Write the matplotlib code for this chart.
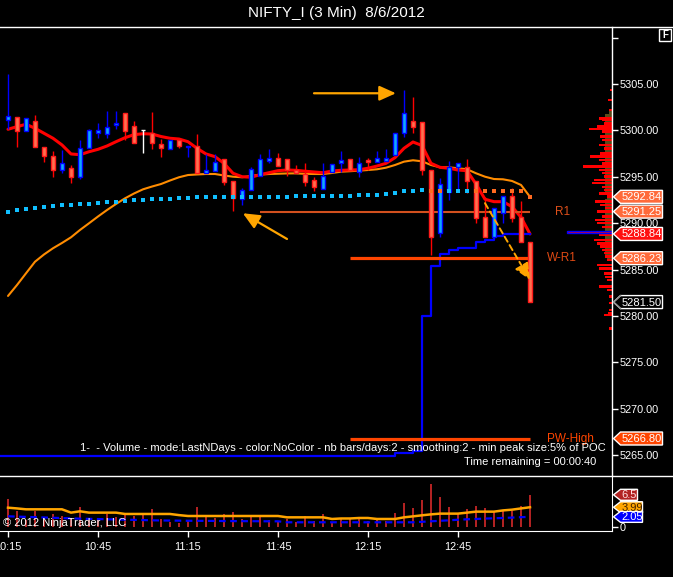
import numpy as np
import matplotlib
matplotlib.use("Agg")
import matplotlib.pyplot as plt
from matplotlib.patches import Polygon, Rectangle
from matplotlib.lines import Line2D
from matplotlib.transforms import IdentityTransform

plt.rcParams['font.family'] = ['Liberation Sans', 'DejaVu Sans']

# ---------------- data ----------------
title = "NIFTY_I (3 Min)  8/6/2012"
time_ticks = [0, 10, 20, 30, 40, 50]
time_labels = ['10:15', '10:45', '11:15', '11:45', '12:15', '12:45']
price_ticks = [5265, 5270, 5275, 5280, 5285, 5290, 5295, 5300, 5305, 5310]

opens = [5301.12, 5301.48, 5299.94, 5301.05, 5298.18, 5297.27, 5295.73, 5295.98, 5294.95, 5298.07,
         5299.69, 5299.58, 5300.55, 5301.84, 5300.44, 5300.01, 5299.69, 5298.50, 5298.03, 5299.00,
         5298.21, 5298.35, 5295.38, 5295.62, 5296.95, 5294.51, 5292.64, 5293.58, 5295.09, 5296.73,
         5296.99, 5296.89, 5295.76, 5295.27, 5294.66, 5293.69, 5295.48, 5296.45, 5296.89, 5295.55,
         5296.78, 5296.59, 5296.67, 5297.32, 5299.69, 5301.05, 5300.94, 5295.70, 5288.91, 5293.39,
         5296.09, 5296.09, 5294.51, 5290.67, 5288.55, 5291.07, 5292.90, 5290.67, 5288.01]
highs = [5306.08, 5301.48, 5301.37, 5301.66, 5298.18, 5297.78, 5297.89, 5296.27, 5298.97, 5300.12,
         5300.77, 5302.09, 5302.09, 5301.84, 5301.01, 5300.01, 5301.98, 5299.04, 5298.93, 5299.00,
         5298.35, 5299.61, 5297.46, 5297.42, 5296.95, 5294.51, 5293.76, 5296.09, 5297.46, 5297.96,
         5297.53, 5296.89, 5296.27, 5296.45, 5294.95, 5296.45, 5296.42, 5297.78, 5296.89, 5297.10,
         5297.03, 5297.78, 5297.96, 5299.69, 5304.35, 5303.63, 5300.94, 5295.70, 5294.84, 5296.70,
         5296.45, 5296.89, 5294.51, 5292.79, 5291.61, 5292.96, 5293.76, 5292.42, 5288.01]
lows = [5300.15, 5298.21, 5299.94, 5298.21, 5296.63, 5295.01, 5295.44, 5294.36, 5294.76, 5298.07,
        5299.21, 5299.21, 5300.12, 5298.97, 5298.61, 5297.60, 5298.00, 5297.08, 5298.03, 5298.07,
        5297.10, 5295.38, 5295.38, 5295.62, 5294.12, 5291.35, 5291.96, 5293.58, 5295.09, 5296.45,
        5296.13, 5295.12, 5295.38, 5294.04, 5293.47, 5293.69, 5295.48, 5295.48, 5295.70, 5294.98,
        5295.73, 5296.59, 5296.67, 5297.32, 5299.32, 5299.69, 5295.19, 5286.57, 5288.55, 5292.50,
        5293.39, 5293.22, 5289.99, 5288.55, 5288.55, 5289.99, 5290.16, 5287.94, 5281.50]
closes = [5301.58, 5299.94, 5301.37, 5298.24, 5297.24, 5295.73, 5296.52, 5295.01, 5298.07, 5300.01,
          5300.01, 5300.33, 5300.77, 5299.97, 5298.61, 5300.01, 5298.61, 5298.07, 5298.93, 5298.29,
          5298.35, 5295.38, 5295.70, 5296.59, 5294.41, 5292.68, 5293.55, 5295.81, 5296.95, 5296.99,
          5296.13, 5295.76, 5295.38, 5294.47, 5293.93, 5295.12, 5296.42, 5296.84, 5295.70, 5296.52,
          5296.56, 5297.03, 5297.06, 5299.69, 5301.84, 5300.33, 5295.70, 5288.48, 5294.26, 5296.09,
          5296.45, 5294.55, 5290.53, 5288.55, 5291.61, 5292.96, 5290.53, 5287.94, 5281.50]

fast_ma = [5300.12, 5300.40, 5300.66, 5300.23, 5299.69, 5299.15, 5298.43, 5297.46, 5297.38, 5297.70,
           5297.96, 5298.32, 5298.78, 5299.21, 5299.54, 5299.64, 5299.61, 5299.34, 5299.15, 5299.07,
           5298.78, 5298.07, 5297.46, 5297.17, 5296.45, 5295.38, 5295.01, 5294.95, 5295.23, 5295.44,
           5295.66, 5295.73, 5295.70, 5295.60, 5295.52, 5295.44, 5295.62, 5295.70, 5295.73, 5295.76,
           5295.92, 5296.16, 5296.45, 5297.06, 5298.07, 5298.75, 5298.37, 5296.45, 5296.02, 5295.92,
           5295.73, 5295.66, 5294.22, 5292.58, 5292.32, 5292.32, 5291.78, 5290.64, 5288.84]
slow_ma = [5282.16, 5283.34, 5284.60, 5285.85, 5286.63, 5287.30, 5287.87, 5288.48, 5289.27, 5289.99,
           5290.72, 5291.42, 5292.07, 5292.68, 5293.20, 5293.65, 5293.95, 5294.22, 5294.60, 5294.95,
           5295.19, 5295.25, 5295.30, 5295.30, 5295.14, 5295.01, 5294.95, 5295.09, 5295.23, 5295.30,
           5295.33, 5295.36, 5295.37, 5295.32, 5295.30, 5295.30, 5295.41, 5295.55, 5295.60, 5295.66,
           5295.73, 5295.81, 5295.98, 5296.27, 5296.63, 5296.78, 5296.67, 5296.27, 5296.02, 5296.02,
           5295.92, 5295.81, 5295.38, 5295.01, 5294.76, 5294.73, 5294.55, 5294.12, 5292.84]
vwap = [5291.24, 5291.40, 5291.56, 5291.67, 5291.78, 5291.87, 5291.96, 5292.01, 5292.07, 5292.10,
        5292.14, 5292.23, 5292.32, 5292.41, 5292.50, 5292.54, 5292.58, 5292.61, 5292.64, 5292.69,
        5292.75, 5292.80, 5292.80, 5292.80, 5292.86, 5292.86, 5292.86, 5292.86, 5292.86, 5292.86,
        5292.86, 5292.86, 5292.93, 5292.93, 5292.93, 5292.93, 5292.93, 5292.93, 5292.93, 5293.04,
        5293.04, 5293.04, 5293.15, 5293.29, 5293.47, 5293.50, 5293.58, 5293.47, 5293.47, 5293.50,
        5293.50, 5293.50, 5293.47, 5293.47, 5293.47, 5293.47, 5293.47, 5293.47, 5292.84]
vwap_below = [0] * 47 + [1, 1, 0, 0, 0, 1, 1, 1, 1, 1, 1, 1]
step_line = [5264.90] * 43 + [5265.25, 5265.25, 5265.40, 5280.03, 5285.42, 5286.68, 5287.08,
                              5287.33, 5287.33, 5288.01, 5288.19, 5288.62, 5288.84, 5288.84,
                              5288.84, 5288.84]

volume = [5.60, 3.17, 1.47, 3.23, 1.47, 2.63, 2.16, 1.82, 3.98, 1.82,
          1.35, 2.69, 2.08, 2.69, 2.16, 2.57, 3.58, 1.68, 1.01, 0.81,
          1.21, 3.98, 2.02, 1.82, 2.63, 2.97, 1.56, 2.36, 2.22, 1.35,
          1.21, 1.68, 1.01, 2.16, 1.15, 2.63, 1.01, 1.62, 1.68, 1.82,
          1.21, 1.47, 1.21, 2.83, 4.79, 3.78, 5.39, 8.63, 6.00, 3.98,
          2.83, 3.58, 4.18, 3.78, 3.03, 3.37, 3.23, 4.18, 6.50]
vol_avg_fast = [3.90, 3.75, 3.57, 3.57, 3.57, 3.57, 3.57, 2.90, 3.17, 2.90,
                2.90, 2.90, 2.90, 2.63, 2.63, 2.63, 2.63, 2.63, 2.63, 2.40,
                2.22, 2.22, 2.22, 2.22, 2.22, 2.22, 2.22, 2.22, 2.22, 2.22,
                2.22, 1.95, 1.95, 1.95, 1.95, 1.95, 1.62, 1.72, 1.72, 1.82,
                1.82, 1.62, 1.62, 1.62, 1.95, 2.15, 2.36, 2.55, 2.70, 2.70,
                2.70, 2.90, 3.10, 3.10, 3.10, 3.35, 3.50, 3.75, 3.99]
vol_avg_slow = [2.16, 2.10, 2.04, 1.98, 1.92, 1.86, 1.80, 1.74, 1.68, 1.64,
                1.60, 1.56, 1.52, 1.48, 1.44, 1.40, 1.35, 1.32, 1.30, 1.28,
                1.26, 1.25, 1.24, 1.22, 1.20, 1.19, 1.18, 1.17, 1.16, 1.15,
                1.15, 0.95, 0.95, 0.95, 0.95, 0.95, 0.95, 0.95, 0.95, 0.95,
                0.95, 0.95, 0.95, 0.95, 0.95, 0.95, 1.05, 1.15, 1.25, 1.35,
                1.47, 1.55, 1.62, 1.70, 1.76, 1.82, 1.90, 1.98, 2.05]

profile_prices = [5304.35, 5303.28, 5302.20, 5301.30, 5301.12, 5300.76, 5300.40, 5300.15, 5299.86, 5299.32,
                  5298.97, 5298.43, 5298.07, 5297.53, 5297.17, 5296.81, 5296.45, 5296.09, 5295.73, 5295.38,
                  5295.01, 5294.66, 5294.30, 5293.93, 5293.58, 5293.22, 5292.86, 5292.32, 5291.96, 5291.61,
                  5291.24, 5290.70, 5290.34, 5289.99, 5289.62, 5289.02, 5288.73, 5288.19, 5287.83, 5287.47,
                  5287.11, 5286.76, 5286.39, 5286.03, 5285.50, 5285.14, 5284.60, 5284.23, 5283.88, 5283.16,
                  5282.80, 5282.08, 5281.37, 5280.65, 5280.29, 5280.11, 5278.67]
profile_sizes = [2, 4, 3, 13, 10, 8, 15, 23, 10, 12,
                 10, 13, 8, 12, 22, 13, 10, 29, 13, 10,
                 8, 18, 20, 10, 8, 13, 5, 17, 12, 7,
                 15, 10, 17, 15, 10, 45, 13, 18, 15, 12,
                 10, 8, 7, 5, 15, 13, 8, 7, 5, 13,
                 5, 3, 3, 3, 4, 8, 3]
poc_price = 5289.02

level_names = ['R1', 'W-R1', 'PW-High']
level_values = [5291.25, 5286.23, 5266.80]
level_start = [28, 38, 38]
level_colors = ['#D2501E', '#FF4500', '#FF4500']
level_widths = [1.5, 2.3, 2.3]

# arrows (bar index, price)
arrow_tails = [(34.0, 5304.0), (31.0, 5288.30), (53.0, 5292.16)]
arrow_tips = [(43.1, 5304.0), (26.1, 5291.07), (58.0, 5283.88)]
arrow_dashed = [False, False, True]

# ---------------- figure ----------------
W, H, DPI = 673, 577, 100
fig = plt.figure(figsize=(W / DPI, H / DPI), dpi=DPI, facecolor='black')


def rect(x0, y0, x1, y1):
    return [x0 / W, 1 - y1 / H, (x1 - x0) / W, (y1 - y0) / H]


PANEL_R = 612
axp = fig.add_axes(rect(0, 27, PANEL_R, 476))
ax = fig.add_axes(rect(0, 27, PANEL_R, 476), sharey=axp)
axv = fig.add_axes(rect(0, 476, PANEL_R, 531))
for a in (axp, ax, axv):
    a.set_facecolor('none')
axp.set_zorder(1)
ax.set_zorder(2)

n = len(opens)
x = np.arange(n)
xlim = (-8 / 9, (PANEL_R - 8) / 9)
ax.set_xlim(*xlim)
axv.set_xlim(*xlim)
ax.set_ylim(5262.76, 5311.14)

# volume profile
axp.set_xlim(PANEL_R, 0)
pp = np.array(profile_prices)
ps = np.array(profile_sizes, dtype=float)
va = (pp > 5285.8) & (pp < 5302.5)
axp.fill_betweenx(pp[va], 0, np.minimum(ps[va], 7), color='#5C4A1A', lw=0, step='mid', zorder=1)
axp.barh(pp, ps, height=0.26, color='#FF0000', lw=0, zorder=2)
poc_i = int(np.argmin(np.abs(pp - poc_price)))
axp.barh([pp[poc_i]], [ps[poc_i]], height=0.22, color='#FF0000', edgecolor='#0000FF', lw=1.0, zorder=3)
axp.axis('off')

# moving averages
ax.plot(x, slow_ma, color='#FF8C00', lw=1.5, zorder=2, solid_capstyle='round')
ax.plot(x, fast_ma, color='#FF0000', lw=2.2, zorder=2, solid_capstyle='round')

# step line
sx = np.r_[xlim[0], x[1:]]
ax.plot(sx, step_line, drawstyle='steps-post', color='#0000FF', lw=1.6, zorder=2)

# levels
for name, val, st, c, lw in zip(level_names, level_values, level_start, level_colors, level_widths):
    ax.hlines(val, st, n - 1, color=c, lw=lw, zorder=2)

# candles
o = np.array(opens); c = np.array(closes); h = np.array(highs); l = np.array(lows)
up = c > o
doji = np.isclose(c, o)
wick_col = np.where(doji, '#FFFFFF', np.where(up, '#0000FF', '#FF0000'))
ax.vlines(x, l, h, colors=wick_col, lw=1.0, zorder=3)
body_h = np.maximum(np.abs(c - o), 0.04)
body_b = np.minimum(o, c)
fc = np.where(doji, '#FFFFFF', np.where(up, '#10A8FF', '#FF7050'))
ec = np.where(doji, '#FFFFFF', np.where(up, '#0000FF', '#FF1A1A'))
ax.bar(x, body_h, bottom=body_b, width=0.46, color=fc, edgecolor=ec, lw=1.0, zorder=3)

# vwap dots
vw = np.array(vwap)
vb = np.array(vwap_below, dtype=bool)
ax.scatter(x[~vb], vw[~vb], marker='s', s=9, color='#10BFFF', lw=0, zorder=4)
ax.scatter(x[vb], vw[vb], marker='s', s=9, color='#FF6A20', lw=0, zorder=4)

# arrows
for (tx, ty), (hx, hy), dashed in zip(arrow_tails, arrow_tips, arrow_dashed):
    props = dict(arrowstyle='-|>,head_length=1.0,head_width=0.45', color='#FFA500',
                 lw=1.6, shrinkA=0, shrinkB=0, mutation_scale=10)
    if dashed:
        props['linestyle'] = (0, (3, 2))
        props['lw'] = 1.4
    ax.annotate('', xy=(hx, hy), xytext=(tx, ty), arrowprops=props, zorder=6)

# level labels
ax.text(61.6, level_values[0], level_names[0], color='#E0501A', fontsize=8.5, ha='center', va='center', zorder=6)
ax.text(61.5, level_values[1], level_names[1], color='#E04A14', fontsize=8.5, ha='center', va='center', zorder=6)
ax.text(59.9, level_values[2], level_names[2], color='#FF4500', fontsize=8.5, ha='left', va='center', zorder=6)

# price axis
for sp in ('top', 'left', 'bottom'):
    ax.spines[sp].set_visible(False)
ax.spines['right'].set_color('white')
ax.spines['right'].set_linewidth(1.0)
ax.yaxis.tick_right()
ax.set_yticks(price_ticks)
ax.set_yticklabels([f'{t:.2f}' if t < 5310 else '' for t in price_ticks])
ax.tick_params(axis='y', colors='white', labelcolor='white', length=4, width=1, labelsize=7.8, pad=1.5)
ax.set_xticks([])

# volume panel
axv.bar(x, volume, width=0.33, color='#B22222', zorder=2)
axv.plot(x, vol_avg_fast, color='#FFA500', lw=1.8, zorder=3)
axv.plot(x, vol_avg_slow, color='#0000FF', lw=1.6, ls=(0, (3, 2)), zorder=3)
axv.set_ylim(-0.81, 10.3)
for sp in ('top', 'left'):
    axv.spines[sp].set_visible(False)
axv.spines['right'].set_color('white')
axv.spines['bottom'].set_color('white')
axv.yaxis.tick_right()
axv.set_yticks([0])
axv.set_yticklabels(['0'])
axv.tick_params(axis='y', colors='white', length=4, width=1, labelsize=7.8, pad=1.5)
axv.set_xticks(time_ticks)
axv.set_xticklabels(time_labels)
axv.tick_params(axis='x', colors='white', length=4, width=1, labelsize=7.8, pad=4)

# frame lines
fig.add_artist(Line2D([0, 1], [1 - 27 / H] * 2, transform=fig.transFigure, color='white', lw=1.0))
fig.add_artist(Line2D([0, 1], [1 - 476 / H] * 2, transform=fig.transFigure, color='white', lw=1.0))

# title and texts
fig.text(336 / W, 1 - 13 / H, title, color='white', fontsize=11, ha='center', va='center')
fig.text(606 / W, 1 - 448 / H,
         '1-  - Volume - mode:LastNDays - color:NoColor - nb bars/days:2 - smoothing:2 - min peak size:5% of POC',
         color='white', fontsize=8, ha='right', va='center')
fig.text(596 / W, 1 - 462 / H, 'Time remaining = 00:00:40', color='white', fontsize=8, ha='right', va='center')
fig.text(3 / W, 1 - 523 / H, '\u00a9 2012 NinjaTrader, LLC', color='white', fontsize=8, ha='left', va='center',
         zorder=10)

# F box
fig.add_artist(Rectangle((659 / W, 1 - 41 / H), 12 / W, 12 / H, transform=fig.transFigure,
                         fc='black', ec='white', lw=1.0))
fig.text(665 / W, 1 - 35 / H, 'F', color='white', fontsize=7, fontweight='bold', ha='center', va='center')


# value tags
def tag(axis, value, text, fc, tc='white', ec='white', w=49, h=13, tip_ec=None):
    y = axis.transData.transform((0, value))[1]
    x0 = axis.bbox.x1 + 1.5
    pts = [(x0, y), (x0 + 7, y + h / 2), (x0 + w, y + h / 2), (x0 + w, y - h / 2), (x0 + 7, y - h / 2)]
    fig.add_artist(Polygon(pts, closed=True, transform=IdentityTransform(), fc=fc, ec=ec, lw=1.0, zorder=20))
    if tip_ec is not None:
        fig.add_artist(Line2D([x0 + 7, x0, x0 + 7], [y + h / 2, y, y - h / 2], transform=IdentityTransform(),
                              color=tip_ec, lw=1.0, zorder=21))
    fig.text(x0 + 8, y - 0.5, text, transform=IdentityTransform(), color=tc, fontsize=8, ha='left',
             va='center', zorder=22)


tag(ax, slow_ma[-1], f'{slow_ma[-1]:.2f}', '#FF6A3A')
tag(ax, level_values[0], f'{level_values[0]:.2f}', '#FF6A3A')
tag(ax, fast_ma[-1], f'{fast_ma[-1]:.2f}', '#FF1010')
tag(ax, level_values[1], f'{level_values[1]:.2f}', '#FF6A3A')
tag(ax, closes[-1], f'{closes[-1]:.2f}', 'black', tip_ec='#909090')
tag(ax, level_values[2], f'{level_values[2]:.2f}', '#FF4500')
tag(axv, volume[-1], f'{volume[-1]:.1f}', '#B22222', tc='#FFE0E0', w=24, h=11)
tag(axv, vol_avg_fast[-1], f'{vol_avg_fast[-1]:.2f}', '#FFA500', tc='#402000', w=29, h=11)
tag(axv, vol_avg_slow[-1], f'{vol_avg_slow[-1]:.2f}', '#0000FF', tc='white', w=29, h=11)

fig.savefig('out.png', dpi=DPI, facecolor='black')
